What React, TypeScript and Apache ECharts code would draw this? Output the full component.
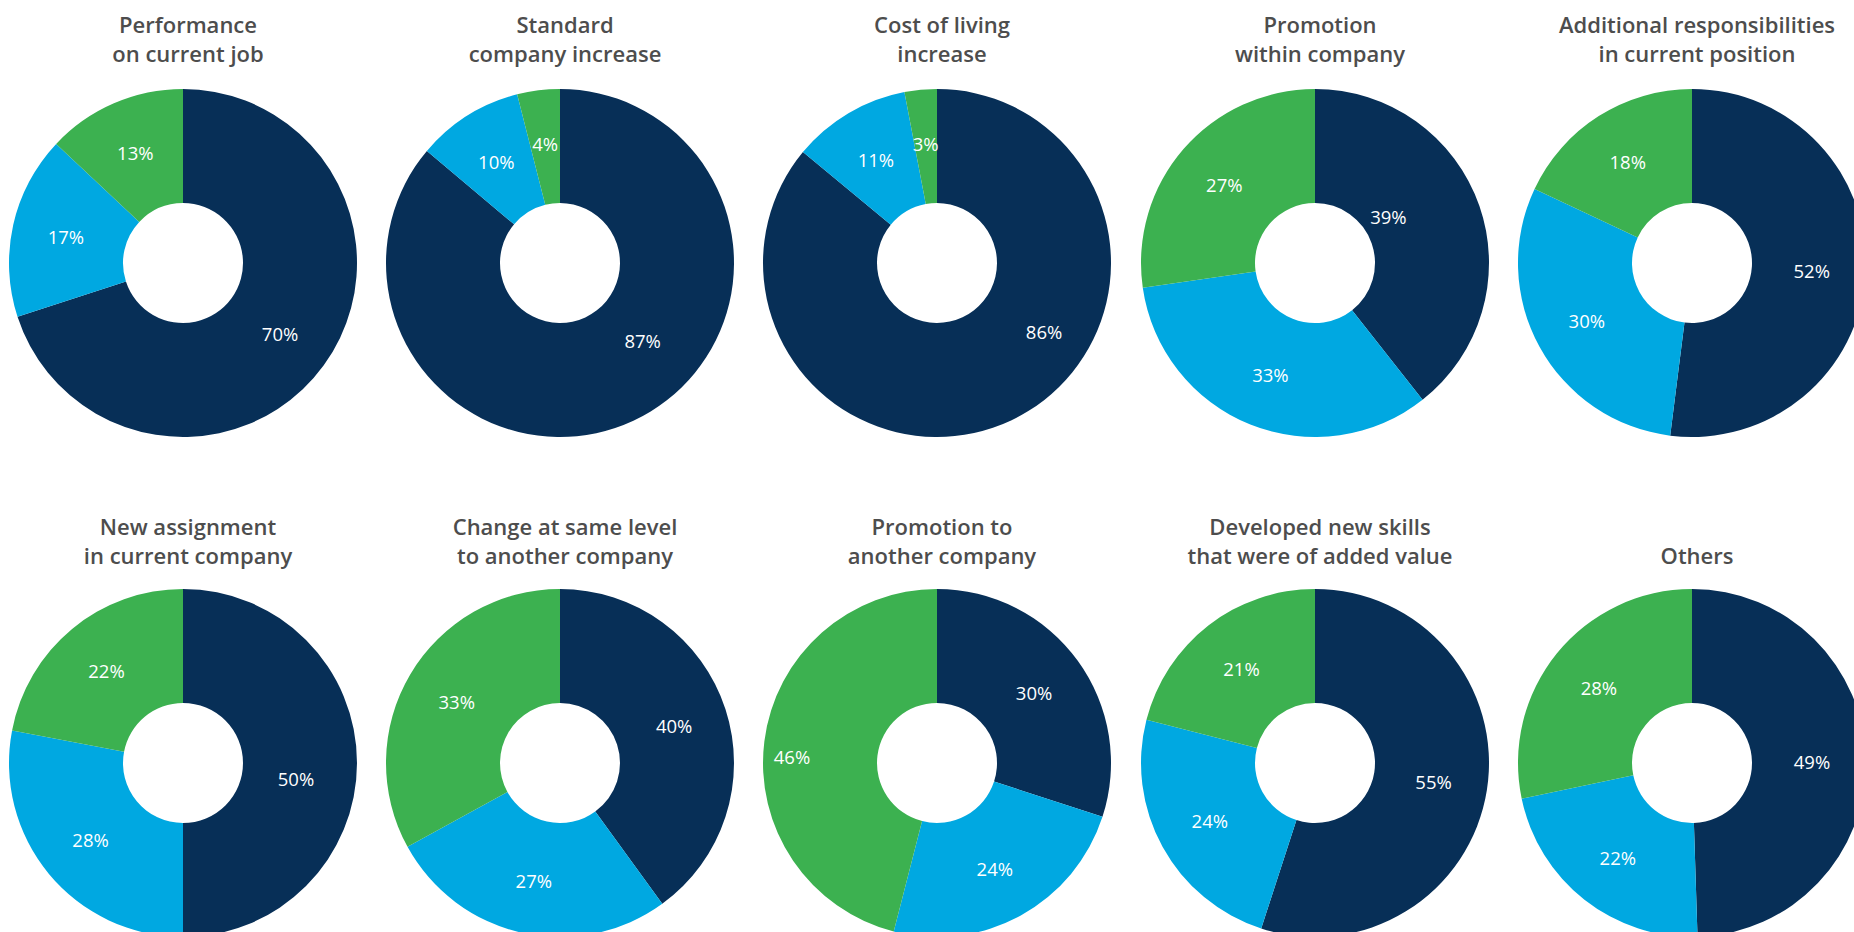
import React, { useEffect, useRef } from "react";
import * as echarts from "echarts";

const titles = [
  "Performance\non current job",
  "Standard\ncompany increase",
  "Cost of living\nincrease",
  "Promotion\nwithin company",
  "Additional responsibilities\nin current position",
  "New assignment\nin current company",
  "Change at same level\nto another company",
  "Promotion to\nanother company",
  "Developed new skills\nthat were of added value",
  "Others",
];

const categories = ["Navy", "Blue", "Green"];

const navyValues = [70, 87, 86, 39, 52, 50, 40, 30, 55, 49];
const blueValues = [17, 10, 11, 33, 30, 28, 27, 24, 24, 22];
const greenValues = [13, 4, 3, 27, 18, 22, 33, 46, 21, 28];

const colors = ["#072f57", "#00a8e1", "#3cb150"];

// label nudges (style only): key = "chartIndex-sliceIndex"
const labelNudges: Record<string, [number, number]> = {
  "1-0": [32, -31],
  "2-0": [56, -40],
  "3-0": [-40, -7],
  "7-2": [-26, 9],
  "5-0": [-7, 15],
};

export default function App() {
  const ref = useRef<HTMLDivElement>(null);
  useEffect(() => {
    if (!ref.current) return;
    const chart = echarts.init(ref.current, null, { renderer: "svg" });
    const colX = [183, 560, 937, 1315, 1692];
    const rowY = [263, 763];
    const titleTop = [4, 506];
    const titleOpts: any[] = [];
    const series: any[] = [];
    titles.forEach((t, i) => {
      const col = i % 5;
      const row = Math.floor(i / 5);
      const lines = t.split("\n").length;
      titleOpts.push({
        text: t,
        left: colX[col],
        top: titleTop[row] + (lines === 1 ? 29 : 0),
        textAlign: "center",
        textStyle: {
          fontFamily: "Open Sans",
          fontSize: 22,
          fontWeight: 600,
          color: "#4d4d4d",
          lineHeight: 29,
        },
      });
      series.push({
        type: "pie",
        center: [colX[col], rowY[row]],
        radius: [60, 174],
        startAngle: 90,
        clockwise: true,
        avoidLabelOverlap: false,
        label: {
          show: true,
          position: "inside",
          formatter: "{c}%",
          color: "#ffffff",
          fontFamily: "Open Sans",
          fontSize: 18.5,
        },
        labelLine: { show: false },
        emphasis: { disabled: true },
        data: categories.map((c, k) => {
          const nudge = labelNudges[`${i}-${k}`];
          return {
            name: c,
            value: [navyValues, blueValues, greenValues][k][i],
            itemStyle: { color: colors[k] },
            ...(nudge ? { label: { offset: nudge } } : {}),
          };
        }),
      });
    });
    chart.setOption({
      animation: false,
      backgroundColor: "#ffffff",
      title: titleOpts,
      series,
    });
    return () => chart.dispose();
  }, []);
  return (
    <div
      ref={ref}
      style={{ position: "absolute", left: 0, top: 0, width: 1854, height: 932 }}
    />
  );
}
